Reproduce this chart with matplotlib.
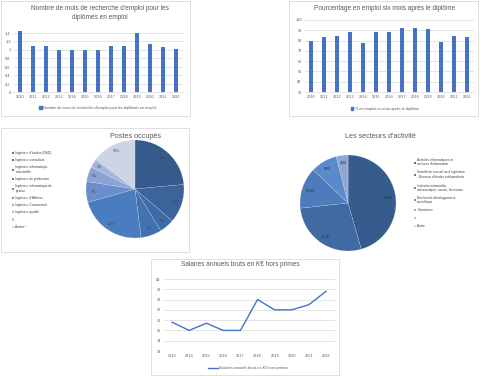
import matplotlib
matplotlib.use("Agg")
import matplotlib.pyplot as plt
from matplotlib.patches import Rectangle, Patch
from matplotlib.lines import Line2D

plt.rcParams['font.family'] = ['Liberation Sans', 'DejaVu Sans']

# ── données ──────────────────────────────────────────────────────────────
annees = [str(a) for a in range(2010, 2023)]
mois_recherche = [1.45, 1.1, 1.1, 1.0, 1.0, 1.0, 1.0, 1.1, 1.1, 1.4, 1.13, 1.06, 1.03]
pct_emploi = [80, 83, 84, 88, 78, 88, 88.5, 92, 92, 91, 79, 84, 83]

postes = ["Ingénieur d'études (R&D)", "Ingénieur consultant",
          "Ingénieur informatique\nindustrielle", "Ingénieur de production",
          "Ingénieur informatique de\ngestion", "Ingénieur d'Affaires",
          "Ingénieur Commercial", "Ingénieur qualité", "", "Autres *"]
postes_pct = [24, 13, 5, 7, 23, 7, 5, 3, 0, 15]

secteurs = ["Activités informatiques et\nservices d'information",
            "Société de conseil ou d'ingénierie\n- Bureaux d'études indépendants",
            "Industrie automobile,\naéronautique, navale, ferroviaire",
            "Recherche développement\nscientifique", "Commerce", "", "Autre"]
secteurs_val = [46, 28, 14, 9, 4, 0, 0]

annees_sal = [str(a) for a in range(2013, 2023)]
salaires = [35.8, 35, 35.7, 35, 35, 38, 37, 37, 37.5, 38.8]

# ── mise en page (pixels) ────────────────────────────────────────────────
W, H = 480, 376
BLUE = "#4472C4"
GRID = "#D9D9D9"
TXT = "#595959"


def box(x0, y0, x1, y1):
    return [x0 / W, 1 - y1 / H, (x1 - x0) / W, (y1 - y0) / H]


def fx(x):
    return x / W


def fy(y):
    return 1 - y / H


fig = plt.figure(figsize=(W / 100, H / 100), dpi=100)

# cadres
for x0, y0, x1, y1 in [(1, 1, 190, 116), (289, 1, 478, 116), (1, 128, 189, 252), (151, 259, 339, 375)]:
    fig.add_artist(Rectangle((fx(x0), fy(y1)), (x1 - x0) / W, (y1 - y0) / H,
                             transform=fig.transFigure, fill=False, edgecolor=GRID, linewidth=0.6))


def style_axes(ax):
    for s in ["top", "right", "left"]:
        ax.spines[s].set_visible(False)
    ax.spines["bottom"].set_color(GRID)
    ax.spines["bottom"].set_linewidth(0.5)
    ax.grid(axis="y", color=GRID, linewidth=0.5)
    ax.set_axisbelow(True)
    ax.tick_params(length=0, labelsize=2.8, colors=TXT, pad=2)


# 1. mois de recherche
ax1 = fig.add_axes(box(13.5, 28.8, 182.5, 92))
ax1.bar(range(len(annees)), mois_recherche, width=0.32, color=BLUE)
ax1.set_xlim(-0.5, len(annees) - 0.5)
ax1.set_ylim(0, 1.5)
ax1.set_yticks([0, 0.2, 0.4, 0.6, 0.8, 1.0, 1.2, 1.4])
ax1.set_yticklabels(["0", "0,2", "0,4", "0,6", "0,8", "1", "1,2", "1,4"])
ax1.set_xticks(range(len(annees)))
ax1.set_xticklabels(annees)
style_axes(ax1)
fig.text(fx(100), fy(13), "Nombre de mois de recherche d'emploi pour les\ndiplômés en emploi",
         ha="center", va="center", fontsize=4.7, color=TXT, linespacing=1.5)
fig.legend([Patch(color=BLUE)], ["Nombre de mois de recherche d'emploi pour les diplômés en emploi"],
           loc="center", bbox_to_anchor=(fx(98), fy(108)), frameon=False, fontsize=2.7,
           handlelength=0.6, handleheight=0.6, handletextpad=0.4, labelcolor=TXT)

# 2. pourcentage en emploi
ax2 = fig.add_axes(box(304.5, 20, 473.5, 92))
ax2.bar(range(len(annees)), pct_emploi, width=0.32, color=BLUE)
ax2.set_xlim(-0.5, len(annees) - 0.5)
ax2.set_ylim(30, 100)
ax2.set_yticks(range(30, 101, 10))
ax2.set_xticks(range(len(annees)))
ax2.set_xticklabels(annees)
style_axes(ax2)
fig.text(fx(385), fy(9), "Pourcentage en emploi six mois après le diplôme",
         ha="center", va="center", fontsize=4.7, color=TXT)
fig.legend([Patch(color=BLUE)], ["% en emploi six mois après le diplôme"],
           loc="center", bbox_to_anchor=(fx(385), fy(109)), frameon=False, fontsize=2.7,
           handlelength=0.6, handleheight=0.6, handletextpad=0.4, labelcolor=TXT)

# 3. postes occupés
couleurs_postes = ["#345B8C", "#3A649A", "#3E6BA6", "#4372B1", "#4A7DC0",
                   "#6A8ECB", "#8BA3D2", "#A7B7DC", "#BCC7E2", "#CDD4E6"]
ax3 = fig.add_axes(box(86, 140, 184, 238))
wedges3, txt3 = ax3.pie(postes_pct, colors=couleurs_postes, startangle=90, counterclock=False,
                        labels=[f"{v}%" if v else "" for v in postes_pct], labeldistance=0.86,
                        wedgeprops=dict(edgecolor="#E8ECF4", linewidth=0.12),
                        textprops=dict(fontsize=2.5, color="#404040"))
for t in txt3:
    t.set_ha("center")
    t.set_va("center")
ax3.set_xlim(-1, 1)
ax3.set_ylim(-1, 1)
fig.text(fx(135), fy(136), "Postes occupés", ha="center", va="center",
         fontsize=5.2, color=TXT)
fig.legend(wedges3, postes, loc="upper left", bbox_to_anchor=(fx(9), fy(148)), frameon=False,
           fontsize=2.3, handlelength=0.6, handleheight=0.6, handletextpad=0.5,
           labelspacing=1.0, labelcolor="#404040")

# 4. secteurs d'activité
couleurs_secteurs = ["#355C8C", "#3F6AA2", "#4E7BBC", "#5B89CE", "#8FA6D3", "#B2C0E0", "#D2D9EB"]
ax4 = fig.add_axes(box(300, 155, 396, 251))
wedges4, txt4 = ax4.pie(secteurs_val, colors=couleurs_secteurs, startangle=90, counterclock=False,
                        labels=[f"{v},00" if v else "" for v in secteurs_val], labeldistance=0.84,
                        wedgeprops=dict(edgecolor="#E8ECF4", linewidth=0.12),
                        textprops=dict(fontsize=2.5, color="#303030"))
for t in txt4:
    t.set_ha("center")
    t.set_va("center")
ax4.set_xlim(-1, 1)
ax4.set_ylim(-1, 1)
fig.text(fx(380), fy(137), "Les secteurs d'activité", ha="center", va="center",
         fontsize=5.2, color=TXT)
fig.legend(wedges4, secteurs, loc="upper left", bbox_to_anchor=(fx(411), fy(155)), frameon=False,
           fontsize=2.3, handlelength=0.6, handleheight=0.6, handletextpad=0.5,
           labelspacing=1.25, labelcolor="#404040")

# 5. salaires
ax5 = fig.add_axes(box(163.5, 279, 334.5, 351))
ax5.plot(range(len(annees_sal)), salaires, color=BLUE, linewidth=1.0)
ax5.set_xlim(-0.5, len(annees_sal) - 0.5)
ax5.set_ylim(33, 40)
ax5.set_yticks(range(33, 41))
ax5.set_xticks(range(len(annees_sal)))
ax5.set_xticklabels(annees_sal)
style_axes(ax5)
ax5.spines["bottom"].set_visible(False)
fig.text(fx(240), fy(265), "Salaires annuels bruts en K€ hors primes",
         ha="center", va="center", fontsize=4.7, color=TXT)
fig.legend([Line2D([], [], color=BLUE, linewidth=1.0)], ["Salaires annuels bruts en K€ hors primes"],
           loc="center", bbox_to_anchor=(fx(248), fy(368)), frameon=False, fontsize=2.7,
           handlelength=2.5, handletextpad=0.3, labelcolor=TXT)

fig.savefig("out.png", dpi=100)
